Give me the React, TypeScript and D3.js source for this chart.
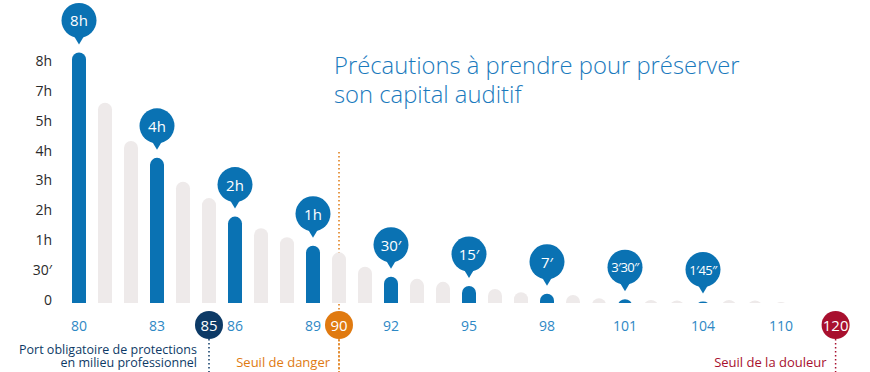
import React, { useEffect, useRef } from "react";
import * as d3 from "d3";

// decibel levels, one bar each
const barLevels = [80, 81, 82, 83, 84, 85, 86, 87, 88, 89, 90, 91, 92, 93, 94, 95, 96, 97, 98, 99, 100, 101, 102, 103, 104, 105, 106, 107];
// bar heights, in y tick steps (0, 30', 1h, 2h ... 8h)
const barValues = [8.41, 6.72, 5.44, 4.87, 4.07, 3.52, 2.9, 2.51, 2.21, 1.92, 1.7, 1.22, 0.88, 0.81, 0.71, 0.57, 0.47, 0.36, 0.31, 0.27, 0.16, 0.13, 0.1, 0.08, 0.05, 0.1, 0.08, 0.03];

const pinLevels = [80, 83, 86, 89, 92, 95, 98, 101, 104];
const pinLabels = ["8h", "4h", "2h", "1h", "30′", "15′", "7′", "3′30″", "1′45″"];

const yTickLabels = ["0", "30′", "1h", "2h", "3h", "4h", "5h", "7h", "8h"];

const xTickLevels = [80, 83, 86, 89, 92, 95, 98, 101, 104, 107];
const xTickLabels = ["80", "83", "86", "89", "92", "95", "98", "101", "104", "110"];

const markerLevels = [85, 90, 109.1];
const markerLabels = ["85", "90", "120"];
const markerColors = ["#0d3a66", "#e07a10", "#a8102e"];

const titleLines = ["Précautions à prendre pour préserver", "son capital auditif"];

const BLUE = "#0a72b3";
const GREY = "#eeeaea";
const FONT = "'Open Sans', 'DejaVu Sans', sans-serif";

const App = () => {
    const svgRef = useRef<SVGSVGElement>(null);

    useEffect(() => {
        const width = 870, height = 372;
        const svg = d3.select(svgRef.current)
            .attr("width", width)
            .attr("height", height)
            .style("font-family", FONT);

        svg.selectAll("*").remove();

        const x = d3.scaleLinear().domain([80, 107]).range([79, 781]);
        const y = d3.scaleLinear().domain([0, 8]).range([303, 64.6]);
        const barW = 14;
        const r = 7;
        const labelY = 325;

        // clip so the bars have a flat bottom and rounded top
        svg.append("defs").append("clipPath").attr("id", "base")
            .append("rect").attr("x", 0).attr("y", 0).attr("width", width).attr("height", y(0));

        // danger threshold line sits behind the bars
        svg.append("line")
            .attr("x1", x(90)).attr("x2", x(90))
            .attr("y1", 152).attr("y2", height)
            .attr("stroke", markerColors[1])
            .attr("stroke-width", 1.5)
            .attr("stroke-dasharray", "1.5,2.5");

        const bars = barLevels.map((lvl, i) => ({ lvl, v: barValues[i], hl: pinLevels.includes(lvl) }));

        svg.append("g").attr("clip-path", "url(#base)")
            .selectAll("rect")
            .data(bars)
            .enter()
            .append("rect")
            .attr("x", d => x(d.lvl) - barW / 2)
            .attr("y", d => y(d.v))
            .attr("width", barW)
            .attr("height", d => y(0) - y(d.v) + r + 2)
            .attr("rx", r)
            .attr("fill", d => (d.hl ? BLUE : GREY));

        // y tick labels
        svg.append("g")
            .selectAll("text")
            .data(yTickLabels)
            .enter()
            .append("text")
            .attr("x", 52)
            .attr("y", (d, i) => y(i) - 4)
            .attr("text-anchor", "end")
            .attr("dominant-baseline", "central")
            .attr("font-size", 14)
            .attr("fill", "#2a2a2a")
            .text(d => d);

        // x tick labels
        svg.append("g")
            .selectAll("text")
            .data(xTickLabels)
            .enter()
            .append("text")
            .attr("x", (d, i) => x(xTickLevels[i]))
            .attr("y", labelY)
            .attr("text-anchor", "middle")
            .attr("dominant-baseline", "central")
            .attr("font-size", 14)
            .attr("fill", "#2e88c5")
            .text(d => d);

        // pins above the highlighted bars
        const pins = svg.append("g")
            .selectAll("g")
            .data(pinLevels.map((lvl, i) => ({ lvl, label: pinLabels[i], v: barValues[barLevels.indexOf(lvl)] })))
            .enter()
            .append("g")
            .attr("transform", d => `translate(${x(d.lvl)}, ${y(d.v) - 8 - 24})`);

        pins.append("path")
            .attr("d", "M-6,14 L6,14 L0,24 Z")
            .attr("fill", BLUE);
        pins.append("circle")
            .attr("r", 17.5)
            .attr("fill", BLUE);
        pins.append("text")
            .attr("text-anchor", "middle")
            .attr("dominant-baseline", "central")
            .attr("font-size", d => (d.label.length > 3 ? 13 : 15))
            .attr("letter-spacing", d => (d.label.length > 3 ? -0.6 : 0))
            .attr("fill", "#fff")
            .text(d => d.label);

        // threshold markers
        const markers = svg.append("g")
            .selectAll("g")
            .data(markerLevels.map((lvl, i) => ({ lvl, label: markerLabels[i], color: markerColors[i] })))
            .enter()
            .append("g")
            .attr("transform", d => `translate(${x(d.lvl)}, ${labelY})`);

        markers.append("line")
            .attr("y1", 14).attr("y2", height - labelY)
            .attr("stroke", d => d.color)
            .attr("stroke-width", 1.5)
            .attr("stroke-dasharray", "1.5,2.5");
        markers.append("circle")
            .attr("r", 14)
            .attr("fill", d => d.color);
        markers.append("text")
            .attr("text-anchor", "middle")
            .attr("dominant-baseline", "central")
            .attr("font-size", 15)
            .attr("fill", "#fff")
            .text(d => d.label);

        // notes under the markers
        const notes = svg.append("g").attr("font-size", 12.5).attr("text-anchor", "end");
        notes.append("text")
            .attr("x", x(85) - 12).attr("y", 354)
            .attr("fill", markerColors[0])
            .selectAll("tspan")
            .data(["Port obligatoire de protections", "en milieu professionnel"])
            .enter()
            .append("tspan")
            .attr("x", x(85) - 12)
            .attr("dy", (d, i) => (i === 0 ? 0 : 13))
            .text(d => d);
        notes.append("text")
            .attr("x", x(90) - 9).attr("y", 367)
            .attr("font-size", 13)
            .attr("fill", markerColors[1])
            .text("Seuil de danger");
        notes.append("text")
            .attr("x", x(109.1) - 9).attr("y", 367)
            .attr("font-size", 13)
            .attr("fill", markerColors[2])
            .text("Seuil de la douleur");

        // title
        svg.append("text")
            .attr("x", 334)
            .attr("y", 74)
            .attr("font-size", 23.8)
            .attr("font-weight", 300)
            .attr("fill", "#1a7abd")
            .selectAll("tspan")
            .data(titleLines)
            .enter()
            .append("tspan")
            .attr("x", 334)
            .attr("dy", (d, i) => (i === 0 ? 0 : 29))
            .text(d => d);
    }, []);

    return <svg ref={svgRef} style={{ position: "absolute", left: 0, top: 0 }}></svg>;
};

export default App;
